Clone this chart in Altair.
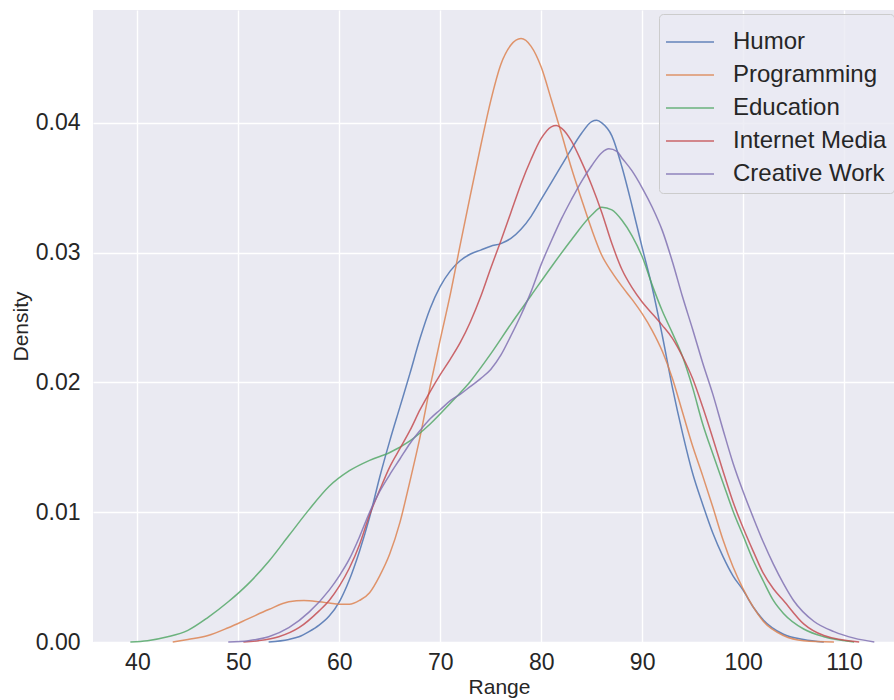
import altair as alt
import pandas as pd

categories = ["Humor", "Programming", "Education", "Internet Media", "Creative Work"]
colors = ["#4C72B0", "#DD8452", "#55A868", "#C44E52", "#8172B3"]

humor_x = [53, 55, 56, 57, 58, 59, 60, 61, 62, 63, 64, 65, 66, 67, 68, 69, 70, 71, 72, 73, 74, 75,
           76, 77, 78, 79, 80, 81, 82, 83, 84, 85, 85.5, 86, 87, 88, 89, 90, 91, 92, 93, 94,
           95, 96, 97, 98, 99, 100, 101, 102, 104, 106, 108]
humor_y = [0.0, 0.0002, 0.0004, 0.0008, 0.0013, 0.0020, 0.0031, 0.0048, 0.0070, 0.0096, 0.0127,
           0.0155, 0.0181, 0.0207, 0.0234, 0.0257, 0.0274, 0.0286, 0.0294, 0.0299, 0.0302, 0.0305,
           0.0307, 0.0311, 0.0318, 0.0328, 0.0341, 0.0354, 0.0367, 0.0380, 0.0392, 0.0401, 0.0402,
           0.0400, 0.0390, 0.0366, 0.0336, 0.0304, 0.0273, 0.0236, 0.0196, 0.0161, 0.0130, 0.0106,
           0.0084, 0.0066, 0.0051, 0.0040, 0.0027, 0.0017, 0.0006, 0.0002, 0.0]

prog_x = [43.5, 45, 47, 49, 51, 53, 55, 56.5, 58, 59, 60, 61, 62, 63, 64, 65, 66, 67, 68, 69,
          70, 71, 72, 73, 74, 75, 76, 77, 78, 79, 80, 81, 82, 83, 84, 85, 86, 87, 88, 89, 90,
          91, 92, 93, 94, 95, 96, 97, 98, 99, 100, 101, 102, 104, 106, 109]
prog_y = [0.0, 0.0002, 0.0005, 0.0011, 0.0018, 0.0025, 0.0031, 0.0032, 0.0031, 0.0030, 0.0029,
          0.0029, 0.0032, 0.0038, 0.0051, 0.0068, 0.0092, 0.0124, 0.0158, 0.0197, 0.0233, 0.0268,
          0.0307, 0.0345, 0.0382, 0.0417, 0.0445, 0.0460, 0.0465, 0.0459, 0.0443, 0.0418, 0.0392,
          0.0365, 0.0341, 0.0318, 0.0298, 0.0285, 0.0274, 0.0264, 0.0253, 0.0240, 0.0224, 0.0203,
          0.0177, 0.0151, 0.0128, 0.0104, 0.0079, 0.0058, 0.0041, 0.0027, 0.0016, 0.0005, 0.0001, 0.0]

edu_x = [39.3, 41, 43, 45, 47, 49, 51, 53, 55, 57, 59, 61, 63, 65, 67, 69, 71, 73, 75, 77, 79,
         81, 83, 85, 86, 87, 88, 89, 90, 91, 92, 93, 94, 95, 96, 97, 98, 99, 100, 101, 102, 103,
         104, 106, 108, 111]
edu_y = [0.0, 0.0001, 0.0004, 0.0009, 0.0019, 0.0031, 0.0045, 0.0062, 0.0082, 0.0102, 0.0120,
         0.0132, 0.0140, 0.0146, 0.0155, 0.0168, 0.0184, 0.0201, 0.0222, 0.0245, 0.0267, 0.0289,
         0.0310, 0.0329, 0.0335, 0.0333, 0.0325, 0.0313, 0.0297, 0.0275, 0.0255, 0.0238, 0.0220,
         0.0196, 0.0168, 0.0145, 0.0123, 0.0101, 0.0082, 0.0063, 0.0047, 0.0032, 0.0022, 0.0010,
         0.0004, 0.0]

im_x = [50.5, 52, 54, 56, 58, 59, 60, 61, 62, 63, 64, 65, 66, 67, 68, 69, 70, 71, 72, 73, 74,
        75, 76, 77, 78, 79, 80, 81, 81.5, 82, 83, 84, 85, 86, 87, 88, 89, 90, 91, 92, 93, 94,
        95, 96, 97, 98, 99, 100, 101, 102, 103, 104, 106, 108, 111.5]
im_y = [0.0, 0.0001, 0.0004, 0.0011, 0.0024, 0.0032, 0.0043, 0.0057, 0.0075, 0.0098, 0.0117,
        0.0135, 0.0149, 0.0163, 0.0179, 0.0193, 0.0206, 0.0218, 0.0231, 0.0247, 0.0266, 0.0288,
        0.0309, 0.0331, 0.0353, 0.0372, 0.0388, 0.0397, 0.0398, 0.0396, 0.0386, 0.0370, 0.0352,
        0.0331, 0.0307, 0.0287, 0.0273, 0.0262, 0.0253, 0.0244, 0.0234, 0.0220, 0.0203, 0.0181,
        0.0157, 0.0132, 0.0108, 0.0088, 0.0070, 0.0053, 0.0041, 0.0032, 0.0014, 0.0005, 0.0]

cw_x = [49, 51, 53, 55, 57, 59, 60, 61, 62, 63, 64, 65, 66, 67, 68, 69, 70, 71, 72, 73, 74, 75,
        76, 77, 78, 79, 80, 81, 82, 83, 84, 85, 86, 86.7, 87.5, 88, 89, 90, 91, 92, 93, 94, 95,
        96, 97, 98, 99, 100, 101, 102, 103, 104, 105, 107, 109, 111, 113]
cw_y = [0.0, 0.0001, 0.0004, 0.0011, 0.0023, 0.0040, 0.0051, 0.0064, 0.0081, 0.0100, 0.0116,
        0.0129, 0.0141, 0.0153, 0.0163, 0.0172, 0.0179, 0.0186, 0.0191, 0.0197, 0.0203, 0.0210,
        0.0221, 0.0236, 0.0252, 0.0270, 0.0291, 0.0309, 0.0326, 0.0341, 0.0355, 0.0367, 0.0377,
        0.0380, 0.0378, 0.0373, 0.0363, 0.0350, 0.0335, 0.0317, 0.0293, 0.0266, 0.0241, 0.0215,
        0.0191, 0.0164, 0.0138, 0.0116, 0.0096, 0.0077, 0.0060, 0.0045, 0.0032, 0.0016, 0.0008,
        0.0003, 0.0]

x_ticks = [40, 50, 60, 70, 80, 90, 100, 110]
y_ticks = [0.0, 0.01, 0.02, 0.03, 0.04]

series = [(humor_x, humor_y), (prog_x, prog_y), (edu_x, edu_y), (im_x, im_y), (cw_x, cw_y)]
rows = []
for cat, (xs, ys) in zip(categories, series):
    for xv, yv in zip(xs, ys):
        rows.append({"Range": xv, "Density": yv, "Category": cat})
df = pd.DataFrame(rows)

FONT = "Liberation Sans"
TEXT = "#262626"

chart = alt.Chart(df).mark_line(strokeWidth=1.5, opacity=0.85, interpolate="monotone").encode(
    x=alt.X("Range:Q",
            scale=alt.Scale(domain=[35.6, 114.95], nice=False, zero=False),
            axis=alt.Axis(values=x_ticks, format="d", title="Range", titleX=406, titleY=51,
                          titleBaseline="alphabetic", labelPadding=9)),
    y=alt.Y("Density:Q",
            scale=alt.Scale(domain=[0, 0.0487], nice=False),
            axis=alt.Axis(values=y_ticks, format=".2f", title="Density", titleX=-66,
                          titleBaseline="alphabetic", labelPadding=13)),
    color=alt.Color("Category:N",
                    scale=alt.Scale(domain=categories, range=colors),
                    sort=categories,
                    legend=alt.Legend(title=None, orient="none", legendX=566, legendY=4,
                                      symbolType="M-1.2,0L1.2,0", symbolSize=1600,
                                      symbolOffset=3,
                                      symbolStrokeWidth=1.6, symbolOpacity=0.85,
                                      labelFontSize=24, labelFont=FONT, labelColor=TEXT,
                                      labelOffset=22, padding=7, rowPadding=0,
                                      fillColor="rgba(234,234,242,0.8)",
                                      strokeColor="#cccccc", cornerRadius=4)),
    order=alt.Order("Range:Q"),
).properties(
    width=801, height=632,
    padding={"left": 93, "top": 10, "right": 0, "bottom": 58},
    autosize=alt.AutoSizeParams(type="none"),
).configure(
    background="white"
).configure_view(
    fill="#EAEAF2", strokeWidth=0
).configure_axis(
    grid=True, gridColor="white", gridWidth=1.4, domain=False, ticks=False,
    labelFont=FONT, labelFontSize=23, labelColor=TEXT,
    titleFont=FONT, titleFontSize=21, titleColor=TEXT, titleFontWeight="normal",
)

chart.save("out.html", embed_options={"renderer": "svg", "actions": False})
